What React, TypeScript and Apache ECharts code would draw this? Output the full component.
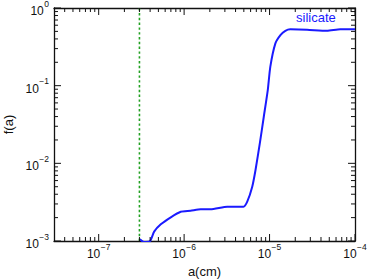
import React, { useEffect, useRef } from "react";
import * as echarts from "echarts";

// grain radius a (cm) and f(a) for silicate
const aValues = [
  3.03e-7, 3.38e-7, 3.97e-7, 4.46e-7, 5.33e-7, 6.98e-7, 9.13e-7, 1.19e-6, 1.56e-6,
  2.04e-6, 3.2e-6, 4.95e-6, 5.48e-6, 6.27e-6, 6.85e-6, 7.69e-6, 8.56e-6, 9.53e-6,
  1.02e-5, 1.17e-5, 1.34e-5, 1.53e-5, 1.75e-5, 2.75e-5, 4.7e-5, 6.72e-5, 1e-4,
];
const fValues = [
  1.05e-3, 0.97e-3, 0.99e-3, 1.32e-3, 1.64e-3, 2.02e-3, 2.38e-3, 2.45e-3, 2.56e-3,
  2.56e-3, 2.76e-3, 2.76e-3, 3.21e-3, 5.0e-3, 8.2e-3, 0.0181, 0.0398, 0.0877,
  0.175, 0.35, 0.448, 0.509, 0.531, 0.525, 0.509, 0.531, 0.531,
];
const seriesName = "silicate";
const cutoffA = [3e-7];

const xMin = 3e-8;
const xMax = 1e-4;
const yMin = 1e-3;
const yMax = 1;
const xMajorTicks = [1e-7, 1e-6, 1e-5, 1e-4];
const yMajorTicks = [1e-3, 1e-2, 1e-1, 1];
const minorMultipliers = [2, 3, 4, 5, 6, 7, 8, 9];

function minorTicks(lo: number, hi: number): number[] {
  const out: number[] = [];
  const e0 = Math.floor(Math.log10(lo));
  const e1 = Math.ceil(Math.log10(hi));
  for (let e = e0; e < e1; e++) {
    for (const m of minorMultipliers) {
      const v = Number((m * Math.pow(10, e)).toPrecision(6));
      if (v > lo * 1.0001 && v < hi * 0.9999) out.push(v);
    }
  }
  return out;
}

const xMinorTicks = minorTicks(xMin, xMax);
const yMinorTicks = minorTicks(yMin, yMax);

const FONT = "'Liberation Sans', Arial, sans-serif";
const AXIS_COLOR = "#111";
const BLUE = "#1a1aff";
const GREEN = "#22a022";
const MAJOR_LEN = 7;
const MINOR_LEN = 4;

function expLabel(v: number): string {
  const e = Math.round(Math.log10(v));
  const s = e < 0 ? "\u2212" + String(-e) : String(e);
  return "{b|10}{s|" + s + "}";
}

const rich = {
  b: { fontSize: 12, lineHeight: 24, fontFamily: FONT, color: "#111" },
  s: { fontSize: 8.5, verticalAlign: "top", fontFamily: FONT, color: "#111", padding: [0, 0, 0, 0.5] },
};

export default function App() {
  const ref = useRef<HTMLDivElement>(null);

  useEffect(() => {
    if (!ref.current) return;
    const chart = echarts.init(ref.current, undefined, { renderer: "svg" });

    const tickStyle = { stroke: AXIS_COLOR, lineWidth: 1 };

    const xTickData = [
      ...xMajorTicks.map((v) => [v, yMin, MAJOR_LEN]),
      ...xMinorTicks.map((v) => [v, yMin, MINOR_LEN]),
    ];
    const yTickData = [
      ...yMajorTicks.map((v) => [xMin, v, MAJOR_LEN]),
      ...yMinorTicks.map((v) => [xMin, v, MINOR_LEN]),
    ];

    const baseX = {
      type: "log" as const,
      logBase: 10,
      min: xMin,
      max: xMax,
      splitLine: { show: false },
      axisTick: { show: false },
      minorTick: { show: false },
    };
    const baseY = {
      type: "log" as const,
      logBase: 10,
      min: yMin,
      max: yMax,
      splitLine: { show: false },
      axisTick: { show: false },
      minorTick: { show: false },
    };
    const lineOn = { show: true, lineStyle: { color: AXIS_COLOR, width: 1.3 } };

    const option: any = {
      animation: false,
      backgroundColor: "#fff",
      grid: { left: 54, right: 19, top: 8, bottom: 38, outerBoundsMode: "none", containLabel: false },
      xAxis: [
        {
          ...baseX,
          position: "bottom",
          axisLine: lineOn,
          axisLabel: { show: true, customValues: xMajorTicks, margin: 1, formatter: expLabel, rich },
          name: "a(cm)",
          nameLocation: "middle",
          nameGap: 20,
          nameTextStyle: { fontSize: 13, fontFamily: FONT, color: "#111" },
        },
        {
          ...baseX,
          position: "top",
          axisLine: lineOn,
          axisLabel: { show: false },
        },
      ],
      yAxis: [
        {
          ...baseY,
          position: "left",
          axisLine: lineOn,
          axisLabel: { show: true, customValues: yMajorTicks, margin: 5, formatter: expLabel, rich, padding: [6, 0, 0, 0] },
          name: "f(a)",
          nameLocation: "middle",
          nameGap: 36,
          nameRotate: 90,
          nameTextStyle: { fontSize: 13, fontFamily: FONT, color: "#111" },
        },
        {
          ...baseY,
          position: "right",
          axisLine: lineOn,
          axisLabel: { show: false },
        },
      ],
      graphic: [
        {
          type: "text",
          left: 296,
          top: 11,
          style: { text: seriesName, fontSize: 13, fontFamily: FONT, fill: BLUE },
        },
      ],
      series: [
        {
          name: seriesName,
          type: "line",
          xAxisIndex: 0,
          yAxisIndex: 0,
          data: aValues.map((a, i) => [a, fValues[i]]),
          showSymbol: false,
          symbol: "none",
          smooth: 0.2,
          clip: true,
          lineStyle: { color: BLUE, width: 2 },
          z: 3,
        },
        {
          type: "custom",
          xAxisIndex: 0,
          yAxisIndex: 0,
          data: cutoffA.map((a) => [a, yMin]),
          silent: true,
          z: 2,
          renderItem: (params: any, api: any) => {
            const b = api.coord([api.value(0), yMin]);
            const t = api.coord([api.value(0), yMax]);
            return {
              type: "line",
              shape: { x1: b[0], y1: b[1], x2: t[0], y2: t[1] },
              style: { stroke: GREEN, lineWidth: 1.6, lineDash: [2.4, 2.4] },
            };
          },
        },
        {
          type: "custom",
          xAxisIndex: 0,
          yAxisIndex: 0,
          data: xTickData,
          silent: true,
          z: 4,
          renderItem: (params: any, api: any) => {
            const len = api.value(2);
            const b = api.coord([api.value(0), yMin]);
            const t = api.coord([api.value(0), yMax]);
            return {
              type: "group",
              children: [
                { type: "line", shape: { x1: b[0], y1: b[1], x2: b[0], y2: b[1] - len }, style: tickStyle },
                { type: "line", shape: { x1: t[0], y1: t[1], x2: t[0], y2: t[1] + len }, style: tickStyle },
              ],
            };
          },
        },
        {
          type: "custom",
          xAxisIndex: 0,
          yAxisIndex: 0,
          data: yTickData,
          silent: true,
          z: 4,
          renderItem: (params: any, api: any) => {
            const len = api.value(2);
            const l = api.coord([xMin, api.value(1)]);
            const r = api.coord([xMax, api.value(1)]);
            return {
              type: "group",
              children: [
                { type: "line", shape: { x1: l[0], y1: l[1], x2: l[0] + len, y2: l[1] }, style: tickStyle },
                { type: "line", shape: { x1: r[0], y1: r[1], x2: r[0] - len, y2: r[1] }, style: tickStyle },
              ],
            };
          },
        },
      ],
    };

    chart.setOption(option);
    return () => chart.dispose();
  }, []);

  return (
    <div
      ref={ref}
      style={{ position: "fixed", left: 0, top: 0, width: 374, height: 279 }}
    />
  );
}
